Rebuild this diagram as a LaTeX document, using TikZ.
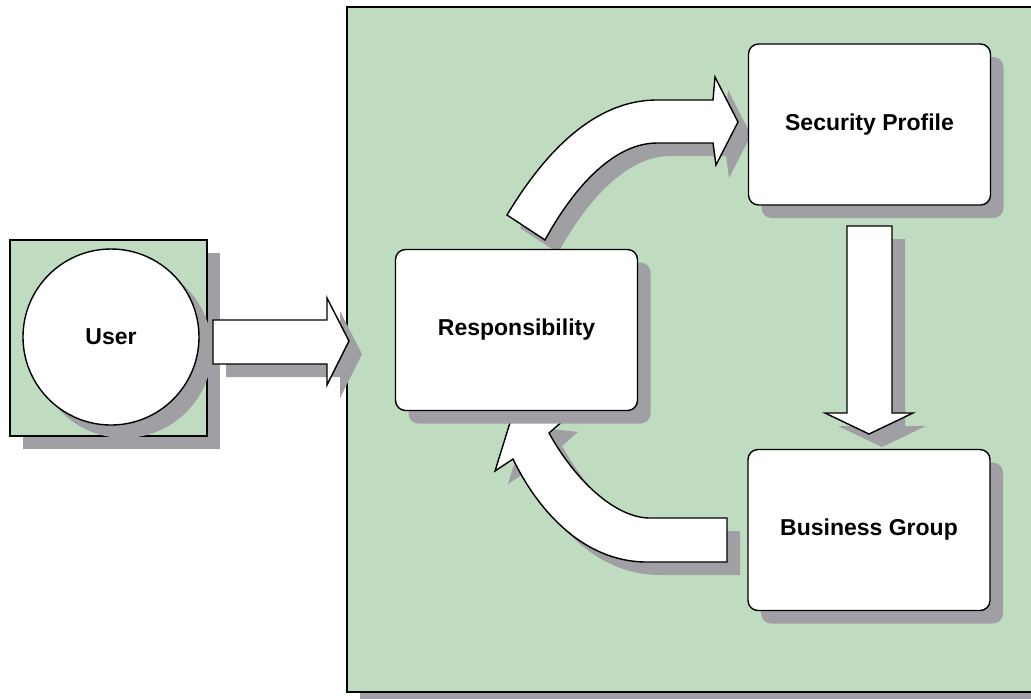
\documentclass[tikz,border=0pt]{standalone}
\usepackage{fontspec}
\setmainfont{Liberation Sans}
\usetikzlibrary{shadows}

\definecolor{panelgreen}{RGB}{192,220,192}
\definecolor{shadowgray}{RGB}{160,160,164}

\tikzset{
  boxshadow/.style={drop shadow={shadow xshift=6.5pt, shadow yshift=-6.5pt, fill=shadowgray, opacity=1}},
  block/.style={draw=black, line width=0.7pt, line join=miter, fill=white, boxshadow},
  stage/.style={block, rounded corners=5pt, minimum width=121pt, minimum height=80.5pt, inner sep=0pt, font=\bfseries\fontsize{11.5}{14}\selectfont},
}

\begin{document}
\begin{tikzpicture}[x=0.5pt, y=-0.5pt]
    \useasboundingbox (0,0) rectangle (1031,698);

    % Green panels
    \draw[line width=0.8pt, fill=panelgreen, boxshadow] (347,7) rectangle (1045,692);
    \draw[line width=0.7pt, fill=panelgreen, boxshadow] (10,240) rectangle (207,436);

    % User
    \node[block, circle, minimum size=88pt, inner sep=0pt, font=\bfseries\fontsize{11.5}{14}\selectfont] (user) at (111,337) {User};

    % Block arrows
    \path[block] (213,320) -- (327,320) -- (327,298) -- (349,341) -- (327,385) -- (327,364) -- (213,364) -- cycle;
    \path[block] (507,215) .. controls (540,160) and (590,100) .. (657,100) -- (713,100) -- (715,77) -- (738,122)
        -- (716,165) -- (713,143) -- (657,143) .. controls (615,143) and (575,185) .. (545,240) -- cycle;
    \path[block] (847,226) -- (892,226) -- (892,413) -- (913,413) -- (869,434) -- (825,413) -- (847,413) -- cycle;
    \path[block] (727,518) -- (650,518) .. controls (615,518) and (575,480) .. (549,433) -- (565,419) -- (513,413)
        -- (495,471) -- (513,459) .. controls (535,505) and (580,562) .. (647,562) -- (727,562) -- cycle;

    % Stages
    \node[stage] (resp) at (516.5,330) {Responsibility};
    \node[stage] (secprof) at (869.5,124.5) {Security Profile};
    \node[stage] (busgroup) at (869,530) {Business Group};
\end{tikzpicture}
\end{document}
